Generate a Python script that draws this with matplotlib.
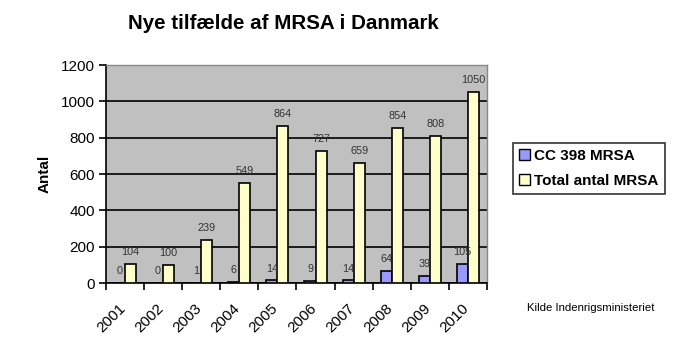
import numpy as np
import matplotlib.pyplot as plt
from matplotlib.patches import Patch

plt.rcParams['font.family'] = ['Liberation Sans', 'DejaVu Sans']

years = ["2001", "2002", "2003", "2004", "2005", "2006", "2007", "2008", "2009", "2010"]
cc398 = [0, 0, 1, 6, 14, 9, 14, 64, 39, 105]
total = [104, 100, 239, 549, 864, 727, 659, 854, 808, 1050]

fig = plt.figure(figsize=(6.96, 3.46), dpi=100)
ax = fig.add_axes([0.1523, 0.182, 0.5474, 0.630])
ax.set_facecolor("#c0c0c0")

x = np.arange(len(years))
w = 0.29
b1 = ax.bar(x - w / 2, cc398, w, color="#9999ff", edgecolor="black", linewidth=1.2, zorder=3)
b2 = ax.bar(x + w / 2, total, w, color="#ffffcc", edgecolor="black", linewidth=1.2, zorder=3)

# value labels above each bar
for bars, vals in ((b1, cc398), (b2, total)):
    for r, v in zip(bars, vals):
        ax.annotate(str(v), (r.get_x() + r.get_width() / 2, v), xytext=(0, 5),
                    textcoords="offset points", ha="center", va="bottom",
                    fontsize=7.8, color="#333333", zorder=4)

ax.set_xlim(-0.5, len(years) - 0.5)
ax.set_ylim(0, 1200)
ax.set_yticks(range(0, 1201, 200))
ax.yaxis.grid(True, color="black", linewidth=1.2, zorder=1)
ax.set_axisbelow(True)

# ticks sit between the year groups; rotated year labels end just left of centre
ax.set_xticks(np.arange(-0.5, len(years)), minor=False)
ax.set_xticklabels([])
ax.set_xticks(x - 0.17, minor=True)
ax.set_xticklabels(years, minor=True, rotation=45, ha="right", va="top",
                   rotation_mode="anchor", fontsize=11)
ax.tick_params(axis="x", which="minor", length=0, pad=13)
ax.tick_params(axis="x", which="major", length=5, width=1.2, direction="out")
ax.tick_params(axis="y", length=5, width=1.2, labelsize=11, direction="out", pad=3)

for s in ("top", "right"):
    ax.spines[s].set_color("#888888")
    ax.spines[s].set_linewidth(1)
for s in ("left", "bottom"):
    ax.spines[s].set_linewidth(1.2)

ax.set_ylabel("Antal", fontsize=11, fontweight="bold", labelpad=7)
fig.text(0.407, 0.932, "Nye tilfælde af MRSA i Danmark", ha="center", va="center",
         fontsize=14.8, fontweight="bold")

handles = [Patch(facecolor="#9999ff", edgecolor="black", label="CC 398 MRSA"),
           Patch(facecolor="#ffffcc", edgecolor="black", label="Total antal MRSA")]
leg = fig.legend(handles=handles, loc="upper left", bbox_to_anchor=(0.737, 0.587),
                 frameon=True, fancybox=False, edgecolor="black",
                 prop={"weight": "bold", "size": 11},
                 handlelength=0.7, handleheight=0.7, handletextpad=0.3,
                 borderpad=0.4, labelspacing=0.7, borderaxespad=0)
leg.get_frame().set_linewidth(1.2)

fig.text(0.757, 0.11, "Kilde Indenrigsministeriet", ha="left", va="center", fontsize=8.2)

fig.savefig("out.png", dpi=100)
